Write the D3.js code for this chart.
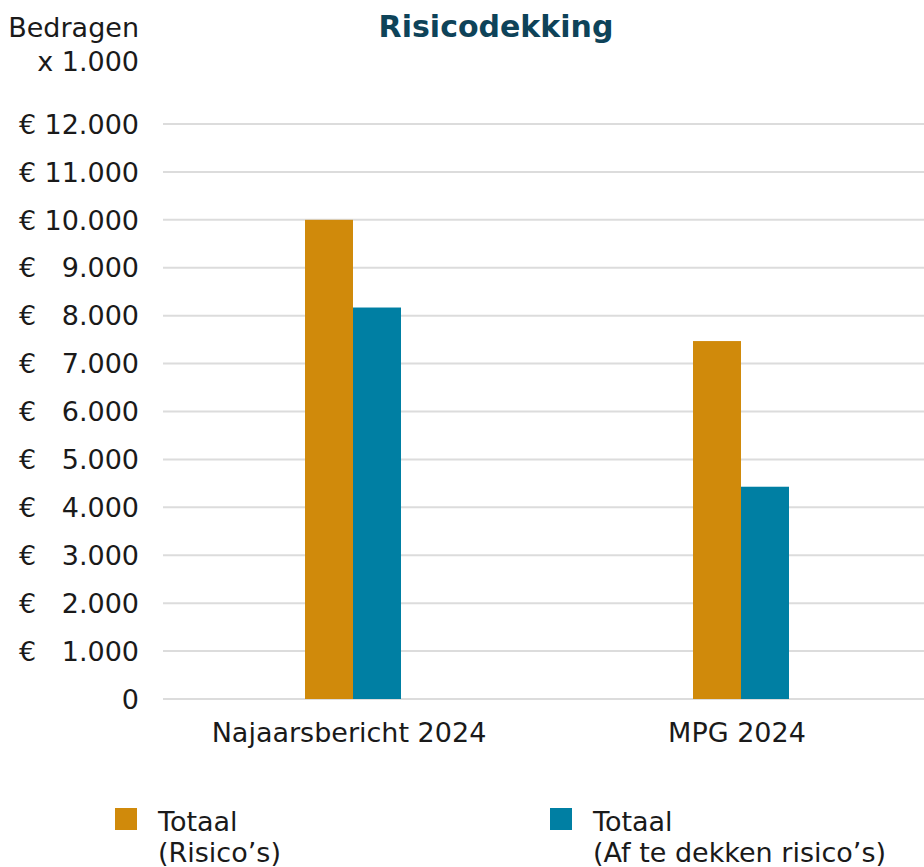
<!DOCTYPE html>
<html><head><meta charset="utf-8">
<script src="https://cdn.jsdelivr.net/npm/d3@7"></script>
<style>body{margin:0;background:#fff}svg{display:block}text{font-family:"DejaVu Sans",Verdana,sans-serif}</style>
</head><body><div id="chart"></div>
<script>
const categories = ["Najaarsbericht 2024", "MPG 2024"];
const seriesNames = ["Totaal\n(Risico’s)", "Totaal\n(Af te dekken risico’s)"];
const seriesColors = ["#D08A0B", "#007FA3"];
const risicos = [10000, 7470];
const afTeDekken = [8170, 4430];
const yTicks = [0,1000,2000,3000,4000,5000,6000,7000,8000,9000,10000,11000,12000];
const title = "Risicodekking";
const yTitle = ["Bedragen", "x 1.000"];

const W = 924, H = 867;
const FS = 27;
const svg = d3.select("#chart").append("svg").attr("width", W).attr("height", H);

const y = d3.scaleLinear().domain([0, 12000]).range([699, 124]);
const x0 = d3.scaleBand().domain(categories).range([159, 935]);
const series = [risicos, afTeDekken];
const x1 = d3.scaleBand().domain([0,1]).range([x0.bandwidth()/2 - 48, x0.bandwidth()/2 + 48]);

// gridlines
svg.append("g").selectAll("line").data(yTicks).join("line")
  .attr("x1", 163).attr("x2", W).attr("y1", d => y(d)).attr("y2", d => y(d))
  .attr("stroke", "#dcdcdc").attr("stroke-width", 2);

// y labels
const fmt = d3.formatLocale({decimal: ",", thousands: ".", grouping: [3], currency: ["€", ""]}).format(",d");
const yl = svg.append("g");
yTicks.forEach(t => {
  yl.append("text").attr("x", 139).attr("y", y(t)).attr("dy", "0.36em")
    .attr("text-anchor", "end").attr("font-size", FS).attr("fill", "#1a1a1a").text(fmt(t));
  if (t > 0) {
    yl.append("text").attr("x", 19).attr("y", y(t)).attr("dy", "0.36em")
      .attr("font-size", FS).attr("fill", "#1a1a1a").text("€");
  }
});
yTitle.forEach((s, i) => svg.append("text").attr("x", 139).attr("y", 37 + i * 34)
  .attr("text-anchor", "end").attr("font-size", FS).attr("fill", "#1a1a1a").text(s));

// bars
categories.forEach((c, ci) => {
  series.forEach((s, si) => {
    svg.append("rect").attr("x", x0(c) + x1(si)).attr("width", x1.bandwidth())
      .attr("y", y(s[ci])).attr("height", y(0) - y(s[ci])).attr("fill", seriesColors[si]);
  });
});

// x labels
svg.append("g").selectAll("text").data(categories).join("text")
  .attr("x", d => x0(d) + x0.bandwidth()/2 - 4).attr("y", 742)
  .attr("text-anchor", "middle").attr("font-size", FS).attr("fill", "#1a1a1a").text(d => d);

// title
svg.append("text").attr("x", 496).attr("y", 37).attr("text-anchor", "middle")
  .attr("font-size", 30).attr("font-weight", "bold").attr("fill", "#0E4359").text(title);

// legend
const lx = [115, 550];
seriesNames.forEach((n, i) => {
  svg.append("rect").attr("x", lx[i]).attr("y", 808).attr("width", 22).attr("height", 22).attr("fill", seriesColors[i]);
  n.split("\n").forEach((line, li) => svg.append("text").attr("x", lx[i] + 43).attr("y", 831 + li * 31)
    .attr("font-size", FS).attr("fill", "#1a1a1a").text(line));
});
</script></body></html>
